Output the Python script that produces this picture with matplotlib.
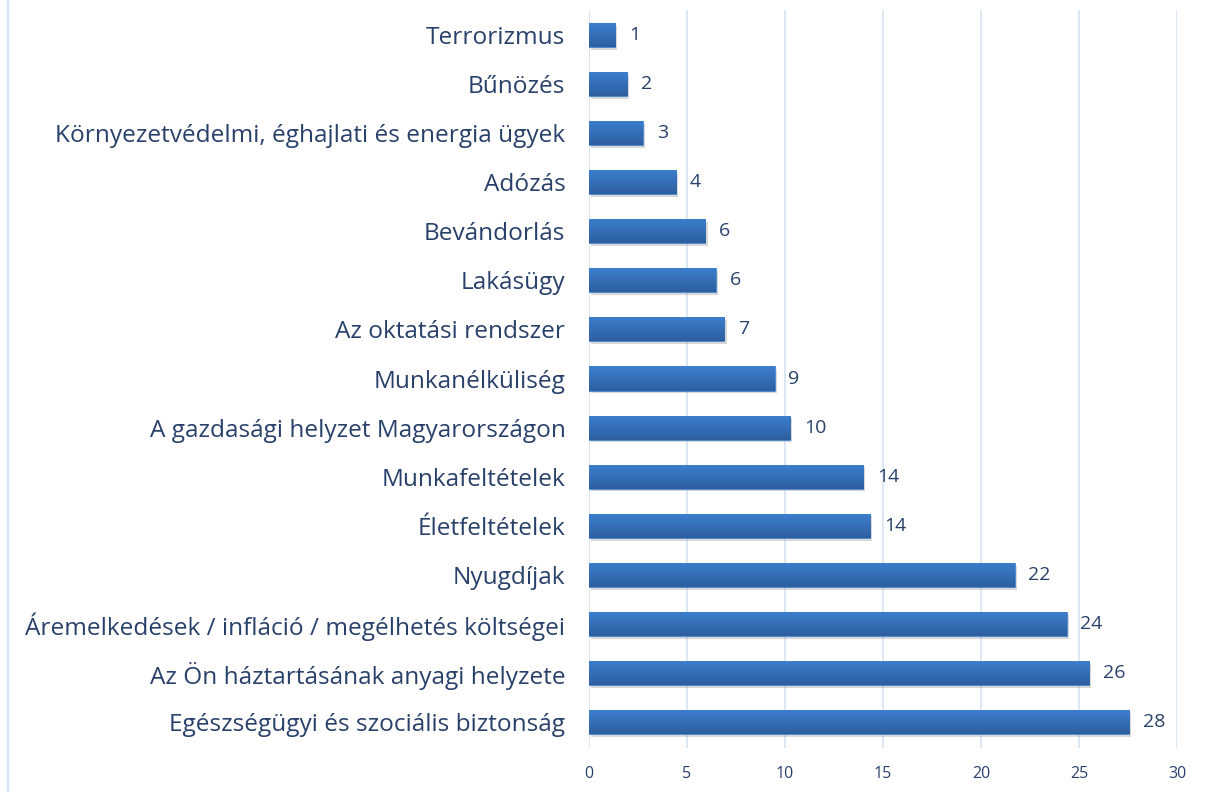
import numpy as np
import matplotlib
matplotlib.use("Agg")
import matplotlib.pyplot as plt
import matplotlib.patheffects as pe
from matplotlib.colors import LinearSegmentedColormap

categories = [
    "Terrorizmus",
    "Bűnözés",
    "Környezetvédelmi, éghajlati és energia ügyek",
    "Adózás",
    "Bevándorlás",
    "Lakásügy",
    "Az oktatási rendszer",
    "Munkanélküliség",
    "A gazdasági helyzet Magyarországon",
    "Munkafeltételek",
    "Életfeltételek",
    "Nyugdíjak",
    "Áremelkedések / infláció / megélhetés költségei",
    "Az Ön háztartásának anyagi helyzete",
    "Egészségügyi és szociális biztonság",
]
values = [1.33, 1.96, 2.75, 4.44, 5.94, 6.47, 6.91, 9.47, 10.27,
          13.99, 14.35, 21.72, 24.37, 25.52, 27.56]
xticks = [0, 5, 10, 15, 20, 25, 30]

text_color = "#28406a"
grid_color = "#d5e3f4"

plt.rcParams['font.family'] = ['Open Sans', 'DejaVu Sans']

fig = plt.figure(figsize=(12.06, 7.92), dpi=100)
ax = fig.add_axes([589 / 1206, 1 - 748 / 792, (1177 - 589) / 1206, (748 - 10) / 792])

n = len(categories)
ypos = np.arange(n)[::-1]  # first category on top
bars = ax.barh(ypos, values, height=0.49, color="#3570bb", edgecolor="#4a86d0",
               linewidth=0.6, zorder=3)

cmap = LinearSegmentedColormap.from_list("g", ["#3d7fcf", "#2e5f9f"])
grad = np.linspace(0, 1, 64).reshape(-1, 1)
for b in bars:
    b.set_path_effects([pe.SimplePatchShadow(offset=(1.5, -2), shadow_rgbFace="#666666", alpha=0.25),
                        pe.Normal()])
    x0, y0 = b.get_x(), b.get_y()
    w, h = b.get_width(), b.get_height()
    im = ax.imshow(grad, cmap=cmap, aspect="auto", extent=[x0, x0 + w, y0, y0 + h],
                   origin="upper", zorder=4, interpolation="bicubic")
    im.set_clip_path(b)

for y, v in zip(ypos, values):
    ax.text(v + 0.7, y, f"{round(v)}", va="center", ha="left", fontsize=14,
            color=text_color, zorder=5)

ax.set_xlim(0, 30)
ax.set_ylim(-0.53, n - 1 + 0.51)
ax.set_xticks(xticks)
ax.set_xticklabels([str(t) for t in xticks], fontsize=11.5, color=text_color)
ax.set_yticks(ypos)
ax.set_yticklabels(categories, fontsize=17.6, color=text_color)
ax.tick_params(axis="y", length=0, pad=17)
ax.tick_params(axis="x", length=0, pad=13)
ax.grid(axis="x", color=grid_color, linewidth=1.2, zorder=0)
ax.set_axisbelow(True)
for s in ax.spines.values():
    s.set_visible(False)

# left chart border line
fig.add_artist(plt.Line2D([8 / 1206, 8 / 1206], [0, 1], color=grid_color, linewidth=1.5))

fig.savefig("out.png", dpi=100)
